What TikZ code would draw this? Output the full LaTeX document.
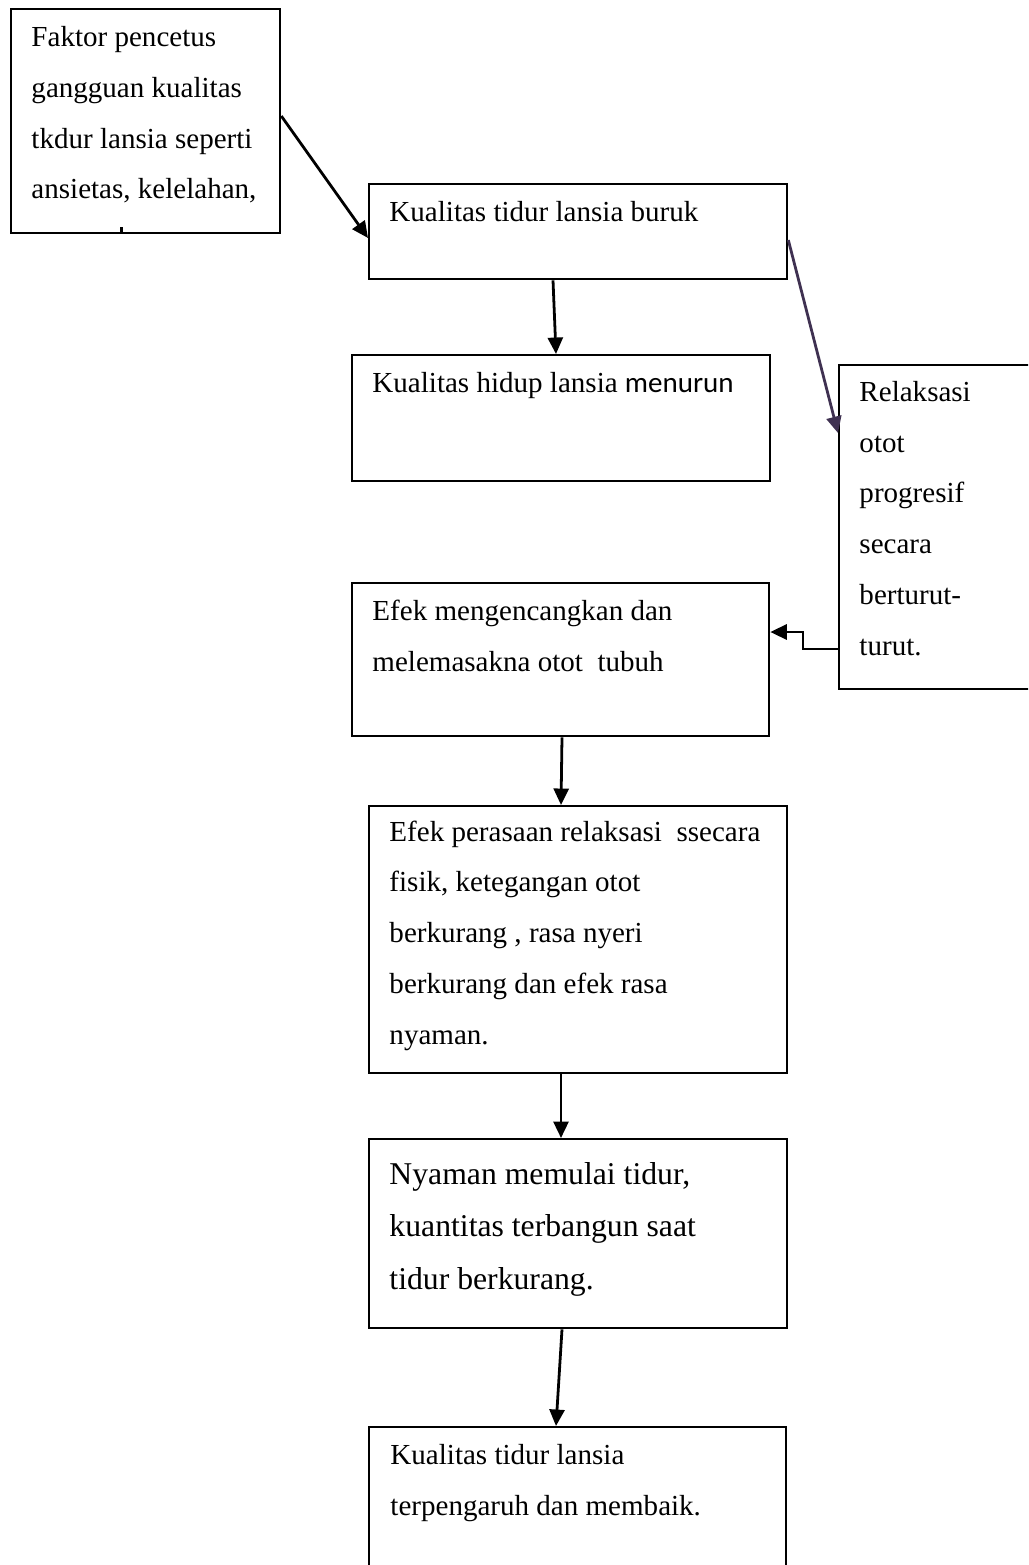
\documentclass[tikz,border=0pt]{standalone}
\usepackage{fontspec}
\setmainfont{Liberation Serif}
\newfontfamily\calibfont{Carlito}
\usetikzlibrary{arrows.meta,calc}
\definecolor{arrowpurple}{RGB}{63,49,81}
\begin{document}
\begin{tikzpicture}[x=0.4132pt,y=-0.4132pt,
  box/.style={draw, line width=0.95pt, inner sep=0, anchor=north west},
  txt/.style={inner sep=0, anchor=base west, align=left, font=\fontsize{12}{20.95}\selectfont},
  bigtxt/.style={txt, font=\fontsize{13.1}{21.5}\selectfont},
  arr/.style={line width=1.15pt, -{Triangle[length=6.8pt,width=6.2pt]}}]
\clip (0,0) rectangle (1028,1565);
\fill[white] (0,0) rectangle (1028,1565);
% boxes
\node[box, minimum width={269*0.4132pt}, minimum height={224*0.4132pt}] (b1) at (10,8) {};
\node[box, minimum width={418*0.4132pt}, minimum height={95*0.4132pt}] (b2) at (368,183) {};
\node[box, minimum width={418*0.4132pt}, minimum height={126*0.4132pt}] (b3) at (351,354) {};
\node[box, minimum width={220*0.4132pt}, minimum height={324*0.4132pt}] (b4) at (838,364) {};
\node[box, minimum width={417*0.4132pt}, minimum height={153*0.4132pt}] (b5) at (351,582) {};
\node[box, minimum width={418*0.4132pt}, minimum height={267*0.4132pt}] (b6) at (368,805) {};
\node[box, minimum width={418*0.4132pt}, minimum height={189*0.4132pt}] (b7) at (368,1138) {};
\node[box, minimum width={417*0.4132pt}, minimum height={200*0.4132pt}] (b8) at (368,1426) {};
% texts (anchored at the baseline of their last line)
\node[txt] (t1) at (31,199) {Faktor pencetus\\gangguan kualitas\\tkdur lansia seperti\\ansietas, kelelahan,};
\fill (120,227) rectangle (122.5,232);
\node[txt] (t2) at (389,221) {Kualitas tidur lansia buruk};
\node[txt] (t3) at (372,392) {Kualitas hidup lansia {\calibfont menurun}};
\node[txt] (t4) at (859,655) {Relaksasi\\otot\\progresif\\secara\\berturut-\\turut.};
\node[txt] (t5) at (372,671) {Efek mengencangkan dan\\melemasakna otot\ \ tubuh};
\node[txt] (t6) at (389,1044) {Efek perasaan relaksasi\ \ ssecara\\fisik, ketegangan otot\\berkurang , rasa nyeri\\berkurang dan efek rasa\\nyaman.};
\node[bigtxt] (t7) at (389,1289) {Nyaman memulai tidur,\\kuantitas terbangun saat\\tidur berkurang.};
\node[txt] (t8) at (390,1515) {Kualitas tidur lansia\\terpengaruh dan membaik.};
% connectors
\draw[arr] ($(b1.north east)+(0,108)$) -- ($(b2.north west)+(0,55)$);
\draw[arr] ($(b2.south west)+(185,0)$) -- ($(b3.north west)+(205,0)$);
\draw[arr, arrowpurple] ($(b2.north east)+(0,57)$) -- ($(b4.north west)+(0,69)$);
\draw[arr] ($(b4.north west)+(0,285)$) -- ++(-35,0) |- ($(b5.north east)+(0,50)$);
\draw[arr] ($(b5.south west)+(211,0)$) -- ($(b6.north west)+(193,0)$);
\draw[arr] ($(b6.south west)+(193,0)$) -- ($(b7.north west)+(193,0)$);
\draw[arr] ($(b7.south west)+(194,0)$) -- ($(b8.north west)+(188,0)$);
\end{tikzpicture}
\end{document}
